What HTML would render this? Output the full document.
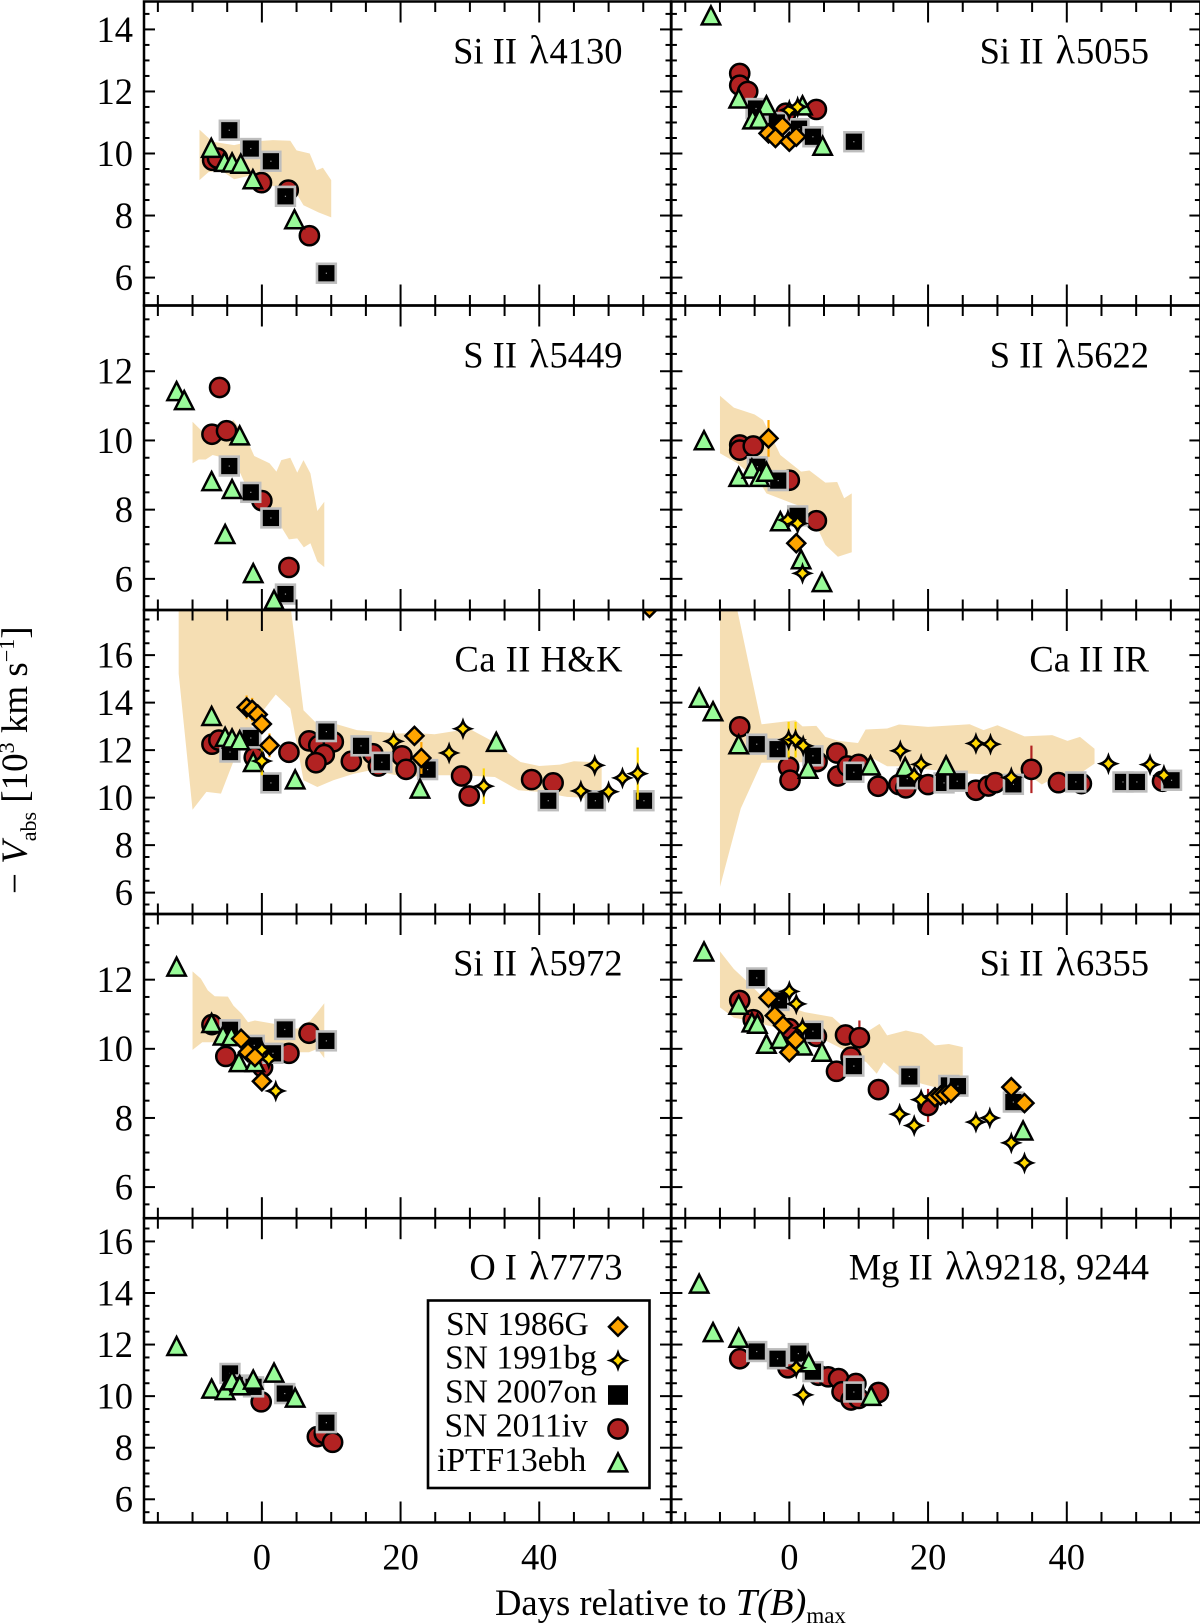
<!DOCTYPE html>
<html lang="en">
<head>
<meta charset="utf-8">
<title>Absorption velocities of spectral lines</title>
<style>
  html, body { margin: 0; padding: 0; background: #fff; }
  svg { display: block; font-family: "Liberation Serif", "DejaVu Serif", serif; fill: #000; }
  .lam { font-size: 40px; }
</style>
</head>
<body>
<svg id="figure" xmlns="http://www.w3.org/2000/svg" width="1200" height="1624" viewBox="0 0 1200 1624">
  <defs id="clips"></defs>
  <g id="plots"></g>

  <g font-size="36.5" text-anchor="end">
    <text x="622.5" y="63.5">Si II <tspan class="lam" dx="3">λ</tspan><tspan dx="1">4130</tspan></text>
    <text x="1149" y="63.5">Si II <tspan class="lam" dx="3">λ</tspan><tspan dx="1">5055</tspan></text>
    <text x="622.5" y="367.7">S II <tspan class="lam" dx="3">λ</tspan><tspan dx="1">5449</tspan></text>
    <text x="1149" y="367.7">S II <tspan class="lam" dx="3">λ</tspan><tspan dx="1">5622</tspan></text>
    <text x="622.5" y="671.7" textLength="168" lengthAdjust="spacing">Ca II H&amp;K</text>
    <text x="1149" y="671.7">Ca II IR</text>
    <text x="622.5" y="975.7">Si II <tspan class="lam" dx="3">λ</tspan><tspan dx="1">5972</tspan></text>
    <text x="1149" y="975.7">Si II <tspan class="lam" dx="3">λ</tspan><tspan dx="1">6355</tspan></text>
    <text x="622.5" y="1279.5">O I <tspan class="lam" dx="3">λ</tspan><tspan dx="1">7773</tspan></text>
    <text x="1149" y="1279.5">Mg II <tspan class="lam" dx="3">λλ</tspan><tspan dx="1">9218, 9244</tspan></text>
  </g>

  <g>
    <rect x="428" y="1300.5" width="221.5" height="187.5" fill="#fff" stroke="#000" stroke-width="2.6"></rect>
    <g font-size="33.6">
      <text x="446" y="1335">SN 1986G</text>
      <text x="445" y="1368.5">SN 1991bg</text>
      <text x="445" y="1402.7">SN 2007on</text>
      <text x="444.5" y="1436.7">SN 2011iv</text>
      <text x="437" y="1471">iPTF13ebh</text>
    </g>
    <g id="legend-marks"></g>
  </g>

  <text x="495" y="1615" font-size="36.6">Days relative to <tspan font-style="italic" font-size="38.5">T(B)</tspan><tspan font-size="23" dy="8">max</tspan></text>
  <text transform="translate(27,894) rotate(-90)" font-size="37">− <tspan font-style="italic">V</tspan><tspan font-size="22" dy="9">abs</tspan><tspan dy="-9"> [10</tspan><tspan font-size="22" dy="-13">3</tspan><tspan dy="13"> km s</tspan><tspan font-size="22" dy="-13">−1</tspan><tspan dy="13">]</tspan></text>
</svg>

<script>
// ---- Tick values ----
const xMajorTicks = [0, 20, 40];
const yTicksRow1 = [6, 8, 10, 12, 14];
const yTicksRow2 = [6, 8, 10, 12];
const yTicksRow3 = [6, 8, 10, 12, 14, 16];
const yTicksRow4 = [6, 8, 10, 12];
const yTicksRow5 = [6, 8, 10, 12, 14, 16];

// ---- Si II 4130 ----
const si4130BandUpper = [[-9,10.77],[-7.1,10.38],[-4,10.27],[-1.8,10.38],[1.6,10.43],[4.1,10.41],[5,10.1],[6.9,10],[7.9,9.46],[8.8,9.54],[10,9.14]];
const si4130BandLower = [[-9,9.14],[-7.7,9.4],[-5.9,9.46],[-4,9.17],[-1.5,9.3],[0.4,8.98],[2.9,8.92],[4.7,8.82],[6,8.33],[8.2,8.1],[10,7.94]];
const si4130Sn2011iv = [[-7.1,9.78],[-6.4,9.85],[-0.06,9.06],[3.8,8.82],[6.85,7.35]];
const si4130Sn2007on = [[-4.7,10.75],[-1.6,10.16],[1.3,9.75],[3.4,8.62],[9.3,6.14]];
const si4130Iptf = [[-7.3,10.13],[-5.4,9.68],[-4.3,9.66],[-3.05,9.62],[-1.3,9.12],[4.7,7.83]];

// ---- Si II 5055 ----
const si5055Sn2011iv = [[-7.15,12.58],[-7.15,12.2],[-6,12],[-0.5,11.3],[3.9,11.42]];
const si5055Sn2007on = [[-4.8,11.45],[-1.8,11],[1.4,10.8],[3.4,10.54],[9.3,10.38]];
const si5055Iptf = [[-11.3,14.4],[-7.3,11.72],[-3.3,11.5],[-5.3,11.05],[-4.3,11.07],[1.9,11.5],[4.8,10.2]];
const si5055Sn1991bg = [[0,11.4],[1.2,11.5]];
const si5055Sn1986g = [[-3,10.65],[-2,10.5],[-1,10.88],[0,10.38],[1,10.54]];

// ---- S II 5449 ----
const s5449BandUpper = [[-10,10.54],[-8.3,10.2],[-6,10.2],[-4.1,10.6],[-2.1,10],[-1.1,9.55],[1.1,9.34],[2.1,9.1],[2.8,9.43],[4.1,9.5],[5.1,9.07],[6,9.43],[7,9.05],[8,7.96],[9,8.23]];
const s5449BandLower = [[-10,9.34],[-9.1,9.45],[-8.1,9.45],[-7.1,9.58],[-6.1,9.53],[-3.1,9.05],[-2.1,8.6],[0,8.1],[1.6,7.9],[2.8,7.5],[3.9,7.14],[5.1,7.17],[6.05,6.91],[7,7.03],[8,6.5],[9,6.34]];
const s5449Sn2011iv = [[-6.1,11.53],[-7.2,10.18],[-5.1,10.28],[0,8.26],[3.9,6.33]];
const s5449Sn2007on = [[-4.7,9.26],[-1.6,8.5],[1.3,7.76],[3.4,5.56]];
const s5449Iptf = [[-12.3,11.38],[-11.2,11.12],[-3.2,10.1],[-7.25,8.78],[-4.3,8.55],[-5.3,7.25],[-1.25,6.12],[1.75,5.35]];

// ---- S II 5622 ----
const s5622BandUpper = [[-10,11.29],[-8,10.95],[-5,10.75],[-3.8,10.59],[-2.3,10],[-1.3,9.58],[1.7,9.1],[2.9,9.13],[5.2,8.78],[6.9,8.8],[7.9,8.33],[9,8.47]];
const s5622BandLower = [[-10,9.63],[-7.5,9.34],[-4.3,8.8],[-3.3,8.47],[0.45,8.18],[2.4,8.04],[4.2,7.41],[5.2,6.98],[7,6.64],[9,6.77]];
const s5622Sn2011iv = [[-7.15,9.87],[-7.15,9.72],[-5.2,9.84],[0,8.85],[3.9,7.68]];
const s5622Sn2007on = [[-4.6,9.24],[-1.6,8.84],[1.2,7.82]];
const s5622Iptf = [[-12.3,9.96],[-7.3,8.9],[-5.4,9.14],[-4.3,8.9],[-3.3,9.05],[-1.3,7.62],[1.7,6.52],[4.7,5.86]];
const s5622Sn1991bg = [[-0.2,7.7],[1.2,7.6],[1.9,6.16]];
const s5622Sn1986g = [[-3,10.06,0.53],[1,7.03]];

// ---- Ca II H&K ----
const caHkBandUpper = [[-12,19],[4.2,17.9],[6,13.68],[7.8,13.15],[10.8,13.09],[13.7,12.84],[16.7,12.77],[19.7,12.7],[22.2,12.72],[24.9,12.67],[27.1,12.77],[29.9,12.9],[33.1,12.4],[35.6,11.85],[37.3,11.5],[40,11.33],[43,11.39],[45,11.53],[47.3,11.5],[49,11.36]];
const caHkBandLower = [[-12,15.22],[-10,9.49],[-8,10.24],[-5.9,10.17],[-3.1,12.28],[-0.15,13.54],[2,14.34],[4.1,13.75],[6,10.73],[8,10.45],[10.3,10.73],[13.2,11],[15.7,11.15],[20.7,10.87],[24.7,10.94],[28.6,10.94],[33.6,10.87],[37,10.31],[40,10.24],[44,10.03],[49,9.96]];
const caHkSn2011iv = [[-7.2,12.25],[-6.2,12.42],[-1.1,11.7],[3.9,11.91],[6.8,12.39],[8.2,12.2],[10.3,12.35],[9,11.81],[7.8,11.47],[12.9,11.53],[16,11.85],[16.8,11.33],[20.2,11.76],[20.8,11.19],[28.8,10.91],[29.9,10.07],[38.9,10.76],[42,10.62]];
const caHkSn2007on = [[-4.6,11.92],[-1.6,12.51],[1.3,10.62],[9.3,12.78],[14.3,12.18],[17.3,11.49],[23.9,11.18],[41.3,9.87],[48.1,9.87],[55.1,9.87]];
const caHkIptf = [[-7.25,13.37],[-5.3,12.49],[-4.3,12.42],[-3.2,12.35],[-1.25,11.43],[4.8,10.7],[22.8,10.31],[33.8,12.28]];
const caHkSn1991bg = [[0,11.54,0.6],[19,12.37],[27,11.88],[29,12.9],[32,10.48,0.75],[46,10.28],[48,11.36],[50,10.25],[52,10.83],[54.2,11.01,1.1]];
const caHkSn1986g = [[-2.2,13.8,0.5],[-1.4,13.7,0.5],[-0.6,13.5],[0,13.1],[1.1,12.2,0.5],[22,12.6],[23,11.67,0.67],[55.9,17.99]];

// ---- Ca II IR ----
const caIrBandUpper = [[-10,19],[-7.5,17.9],[-4,13.09],[0.9,13.26],[1.9,13],[3.9,13.02],[5.2,12.56],[7.1,12.39],[9.9,12.3],[11,12.87],[14.1,12.91],[15.8,13.08],[20,12.98],[26,13.09],[28,12.84],[30,13.05],[33.9,12.58],[37.9,12.63],[40.1,12.39],[41.9,12.56],[44,12.06]];
const caIrBandLower = [[-10,6.24],[-7,9.54],[-4,11.47],[4.7,11.5],[8.1,11.71],[12.1,11.64],[14.1,11.32],[16.1,11.32],[21,11.15],[26,11.01],[31,10.94],[34.9,10.87],[36.4,10.55],[38.4,10.87],[41.9,11.01],[44,11.43]];
const caIrSn2011iv = [[-7.15,12.98],[-0.1,11.29],[0.1,10.73],[4,11.52],[6.85,11.88],[7,10.91],[8.4,11.33],[10,11.4],[12.8,10.48],[15.8,10.55],[16.8,10.41],[20,10.55],[26.9,10.31],[28.7,10.49],[29.7,10.63],[34.9,11.19,1],[38.8,10.63],[42.1,10.59],[53.8,10.69]];
const caIrSn2007on = [[-4.7,12.25],[-1.7,12.04],[3.4,11.76],[9.3,11.07],[17,10.8],[22.3,10.62],[24.2,10.69],[32.3,10.56],[41.3,10.66],[48.1,10.66],[50.1,10.66],[55.1,10.73]];
const caIrIptf = [[-13,14.14],[-11,13.57],[-7.3,12.18],[2.7,11.15],[11.7,11.29],[16.7,11.22],[22.6,11.29]];
const caIrSn1991bg = [[-0.1,12.44,0.75],[0.9,12.44,0.75],[2,12.18],[16,11.97],[18,10.91],[19,11.4],[26.9,12.28],[29,12.25],[32,10.84],[46,11.43],[52,11.39],[54,10.94]];

// ---- Si II 5972 ----
const si5972BandUpper = [[-10,12.24],[-8.8,12.03],[-7.8,11.69],[-6.8,11.52],[-4.9,11.51],[-4.1,11.25],[-2.9,11.01],[-2,10.77],[-1,10.82],[1.8,10.72],[5.1,10.58],[7,10.82],[8,11.06],[9,11.32]];
const si5972BandLower = [[-10,9.97],[-8.6,10.19],[-6.8,10.19],[-2.1,10.1],[2.8,9.95],[5.1,9.9],[6.8,9.9],[8,10],[9,9.73]];
const si5972Sn2011iv = [[-7.2,10.7],[-5.2,9.78],[0.1,9.47],[3.9,9.87],[6.8,10.45]];
const si5972Sn2007on = [[-4.6,10.55],[-1.1,10.1],[1.6,9.87],[3.3,10.56],[9.3,10.23]];
const si5972Iptf = [[-12.3,12.33],[-7.25,10.7],[-5.6,10.34],[-4.4,10.32],[-3.3,9.57],[-1,9.57]];
const si5972Sn1991bg = [[0,9.97],[1,9.71],[2,8.78]];
const si5972Sn1986g = [[-3,10.29],[-2,9.9],[-1,9.76],[0,9.06]];

// ---- Si II 6355 ----
const si6355BandUpper = [[-10,12.82],[-8,12.31],[-6.25,11.98],[-3.8,11.49],[-1.3,11.3],[2.2,11.06],[6.2,10.92],[8.1,10.58],[11.1,10.48],[13,10.72],[14.1,10.39],[16.8,10.53],[19.1,10.43],[21,10.1],[23,10.14],[25,10.05]];
const si6355BandLower = [[-10,11.2],[-8,10.9],[-5.8,10.82],[-2.3,10.63],[2.2,10.34],[5.2,10.24],[8.1,9.95],[11.1,9.61],[12.6,9.28],[13.6,9.61],[16.1,9.18],[19.1,8.99],[21,8.89],[23.5,8.89],[25,9.13]];
const si6355Sn2011iv = [[-7.15,11.4],[-5.2,10.84],[0,10.58],[3.9,10.36],[8.1,10.4],[10.1,10.32,0.5],[8.9,9.76],[6.8,9.35],[12.85,8.82,0.3],[20,8.36,0.48]];
const si6355Sn2007on = [[-4.7,12.05],[-1.5,11.4],[3.4,10.51],[9.3,9.5],[17.3,9.2],[23,8.94],[24.3,8.92],[32.3,8.46]];
const si6355Iptf = [[-12.3,12.77],[-7.3,11.23],[-5.4,10.72],[-4.6,10.68],[-3.3,10.1],[-1.3,10.24],[1.9,10.05],[4.7,9.87],[33.7,7.59]];
const si6355Sn1991bg = [[0,11.66],[1,11.3],[1.9,10.6],[15.9,8.11],[18,7.78],[19,8.53],[23.2,8.75],[26.9,7.88],[28.9,8],[32,7.28],[33.9,6.7]];
const si6355Sn1986g = [[-3,11.48],[-2.1,10.96],[-0.9,10.68],[0.9,10.26],[0,9.9],[21,8.6],[21.8,8.65],[22.5,8.68],[23.3,8.73],[32,8.89],[33.9,8.43]];

// ---- O I 7773 ----
const o7773Sn2011iv = [[-0.1,9.78],[8,8.43],[9,8.55],[10.2,8.21]];
const o7773Sn2007on = [[-4.6,10.88],[-2.6,10.43],[-1.2,10.36],[3.3,10.1],[9.3,8.97]];
const o7773Iptf = [[-12.3,11.88],[-7.25,10.23],[-5.3,10.17],[-4.3,10.55],[-3.2,10.36],[-1.25,10.58],[1.75,10.85],[4.8,9.88]];

// ---- Mg II 9218, 9244 ----
const mg9218Sn2011iv = [[-7.15,11.45],[-0.2,11.1],[4.2,10.81],[5.6,10.75],[7.1,10.68],[7.6,10.17],[8.9,9.85],[9.6,10.49],[10,9.91],[12.85,10.14]];
const mg9218Sn2007on = [[-4.7,11.73],[-1.7,11.45],[1.3,11.65],[3.4,10.95],[9.3,10.16]];
const mg9218Iptf = [[-13,14.3],[-11,12.42],[-7.3,12.2],[2.8,11.25],[11.8,9.95]];
const mg9218Sn1991bg = [[1,11.1],[2,10.05]];

// ---- Axis limits per row ----
const rowYMin = [5.1, 5.1, 5.1, 5.1, 5.1];
const rowYMax = [14.9, 13.9, 17.9, 13.9, 16.9];
const xLimitMin = -17;
const xLimitMax = 59;

// ---- Layout ----
const NS = 'http://www.w3.org/2000/svg';
const rowEdges = [1.5, 305.5, 610, 914, 1218.2, 1522.5];
const columnEdges = [[144, 671], [671.4, 1198.6]];
const rowTicks = [yTicksRow1, yTicksRow2, yTicksRow3, yTicksRow4, yTicksRow5];

const panels = [
  { id: 'si-4130', row: 0, col: 0, upper: si4130BandUpper, lower: si4130BandLower, circle: si4130Sn2011iv, square: si4130Sn2007on, triangle: si4130Iptf, star: [], diamond: [] },
  { id: 'si-5055', row: 0, col: 1, upper: [], lower: [], circle: si5055Sn2011iv, square: si5055Sn2007on, triangle: si5055Iptf, star: si5055Sn1991bg, diamond: si5055Sn1986g },
  { id: 's-5449', row: 1, col: 0, upper: s5449BandUpper, lower: s5449BandLower, circle: s5449Sn2011iv, square: s5449Sn2007on, triangle: s5449Iptf, star: [], diamond: [] },
  { id: 's-5622', row: 1, col: 1, upper: s5622BandUpper, lower: s5622BandLower, circle: s5622Sn2011iv, square: s5622Sn2007on, triangle: s5622Iptf, star: s5622Sn1991bg, diamond: s5622Sn1986g },
  { id: 'ca-hk', row: 2, col: 0, upper: caHkBandUpper, lower: caHkBandLower, circle: caHkSn2011iv, square: caHkSn2007on, triangle: caHkIptf, star: caHkSn1991bg, diamond: caHkSn1986g },
  { id: 'ca-ir', row: 2, col: 1, upper: caIrBandUpper, lower: caIrBandLower, circle: caIrSn2011iv, square: caIrSn2007on, triangle: caIrIptf, star: caIrSn1991bg, diamond: [] },
  { id: 'si-5972', row: 3, col: 0, upper: si5972BandUpper, lower: si5972BandLower, circle: si5972Sn2011iv, square: si5972Sn2007on, triangle: si5972Iptf, star: si5972Sn1991bg, diamond: si5972Sn1986g },
  { id: 'si-6355', row: 3, col: 1, upper: si6355BandUpper, lower: si6355BandLower, circle: si6355Sn2011iv, square: si6355Sn2007on, triangle: si6355Iptf, star: si6355Sn1991bg, diamond: si6355Sn1986g },
  { id: 'o-7773', row: 4, col: 0, upper: [], lower: [], circle: o7773Sn2011iv, square: o7773Sn2007on, triangle: o7773Iptf, star: [], diamond: [] },
  { id: 'mg-9218', row: 4, col: 1, upper: [], lower: [], circle: mg9218Sn2011iv, square: mg9218Sn2007on, triangle: mg9218Iptf, star: mg9218Sn1991bg, diamond: [] }
];

function xScale(col, day) {
  const e = columnEdges[col];
  return e[0] + (day - xLimitMin) / (xLimitMax - xLimitMin) * (e[1] - e[0]);
}
function yScale(row, value) {
  const top = rowEdges[row], bottom = rowEdges[row + 1];
  return bottom - (value - rowYMin[row]) / (rowYMax[row] - rowYMin[row]) * (bottom - top);
}
function make(tag, attrs, parent) {
  const el = document.createElementNS(NS, tag);
  for (const k in attrs) el.setAttribute(k, attrs[k]);
  parent.appendChild(el);
  return el;
}

const COLORS = { circle: '#b22222', square: '#000000', triangle: '#98fb98', star: '#ffd700', diamond: '#ffa500' };
const STAR_PATH = 'M0,-7.6 Q1.9,-1.9 7.6,0 Q1.9,1.9 0,7.6 Q-1.9,1.9 -7.6,0 Q-1.9,-1.9 0,-7.6 Z';

function drawMarker(kind, x, y, parent, plain) {
  const g = make('g', { transform: 'translate(' + x + ',' + y + ')' }, parent);
  
  
  const st = { stroke: '#000', 'stroke-width': 2.5, fill: COLORS[kind] };
  if (kind === 'circle') {
    make('circle', Object.assign({ r: 9.6 }, st), g);
  } else if (kind === 'triangle') {
    make('path', Object.assign({ d: 'M0,-10.6 L9.2,7.4 L-9.2,7.4 Z', 'stroke-miterlimit': 6 }, st), g);
  } else if (kind === 'diamond') {
    make('path', Object.assign({ d: 'M0,-9 L9,0 L0,9 L-9,0 Z', 'stroke-miterlimit': 6 }, st), g);
  } else if (kind === 'star') {
    make('path', Object.assign({ d: STAR_PATH, 'stroke-miterlimit': 6 }, st), g);
  } else if (kind === 'square') {
    if (plain) {
      make('rect', { x: -10, y: -9.8, width: 20, height: 19.6, fill: '#000' }, g);
    } else {
      make('rect', { x: -9.4, y: -9.4, width: 18.8, height: 18.8, fill: '#000', stroke: '#bdbdbd', 'stroke-width': 2.6 }, g);
      make('rect', { x: -0.6, y: -0.6, width: 1.2, height: 1.2, fill: '#999' }, g);
    }
  }
}

function drawSeries(panel, kind, parent) {
  const points = panel[kind];
  const g = make('g', {}, parent);
  
  
  points.forEach(function (p) {
    const x = xScale(panel.col, p[0]);
    const y = yScale(panel.row, p[1]);
    if (p[2]) {
      const bar = make('line', { x1: x, x2: x, y1: yScale(panel.row, p[1] + p[2]), y2: yScale(panel.row, p[1] - p[2]), stroke: COLORS[kind], 'stroke-width': 2.2 }, g);
      
      
    }
    drawMarker(kind, x, y, g, false);
  });
}

function drawBand(panel, parent) {
  if (!panel.upper.length) return;
  const pts = panel.upper.concat(panel.lower.slice().reverse());
  const d = pts.map(function (p) { return xScale(panel.col, p[0]).toFixed(2) + ',' + yScale(panel.row, p[1]).toFixed(2); }).join(' ');
  const band = make('polygon', { points: d, fill: '#f5deb3' }, parent);
  
  
}

function drawAxes(row, col, parent) {
  const left = columnEdges[col][0], right = col === 1 ? 1200.4 : columnEdges[col][1];
  const top = rowEdges[row], bottom = rowEdges[row + 1];
  const g = make('g', { stroke: '#000', 'stroke-width': 2, fill: 'none' }, parent);
  
  
  for (let d = -15; d <= 55; d += 5) {
    const x = xScale(col, d);
    const len = d % 20 === 0 ? 21 : 10.5;
    make('line', { x1: x, x2: x, y1: bottom, y2: bottom - len }, g);
    make('line', { x1: x, x2: x, y1: top, y2: top + len }, g);
  }
  const major = rowTicks[row];
  for (let v = Math.ceil(rowYMin[row] * 2) / 2; v <= rowYMax[row]; v += 0.5) {
    const y = yScale(row, v);
    const len = major.indexOf(v) >= 0 ? 11 : 5.5;
    make('line', { x1: left, x2: left + len, y1: y, y2: y }, g);
    make('line', { x1: right, x2: right - len, y1: y, y2: y }, g);
  }
  make('rect', { x: left, y: top, width: right - left, height: bottom - top, 'stroke-width': 2.5 }, g);
}

const plots = document.getElementById('plots');
const clips = document.getElementById('clips');

panels.forEach(function (panel) {
  const e = columnEdges[panel.col];
  const clip = make('clipPath', { id: 'clip-' + panel.id }, clips);
  make('rect', { x: e[0], y: rowEdges[panel.row], width: (panel.col === 1 ? 1200.4 : e[1]) - e[0], height: rowEdges[panel.row + 1] - rowEdges[panel.row] }, clip);
  const g = make('g', { 'clip-path': 'url(#clip-' + panel.id + ')' }, plots);
  
  
  drawBand(panel, g);
  ['circle', 'square', 'triangle', 'star', 'diamond'].forEach(function (kind) { drawSeries(panel, kind, g); });
});

panels.forEach(function (panel) { drawAxes(panel.row, panel.col, plots); });

// Y tick labels (left column only)
rowTicks.forEach(function (ticks, row) {
  ticks.forEach(function (v) {
    const t = make('text', { x: 133, y: yScale(row, v) + 12.4, 'text-anchor': 'end', 'font-size': 36.5, fill: '#000' }, plots);
    
    
    t.textContent = String(v);
  });
});

// X tick labels (both columns, bottom row)
[0, 1].forEach(function (col) {
  xMajorTicks.forEach(function (d) {
    const t = make('text', { x: xScale(col, d), y: 1569.3, 'text-anchor': 'middle', 'font-size': 36.5, fill: '#000' }, plots);
    
    
    t.textContent = String(d);
  });
});

// Legend markers
const legendKinds = ['diamond', 'star', 'square', 'circle', 'triangle'];
const legendRows = [1326.7, 1360.5, 1395, 1429, 1464];
const legendMarks = document.getElementById('legend-marks');
legendKinds.forEach(function (kind, i) {
  drawMarker(kind, 618, legendRows[i], legendMarks, true);
});
</script>
</body>
</html>
